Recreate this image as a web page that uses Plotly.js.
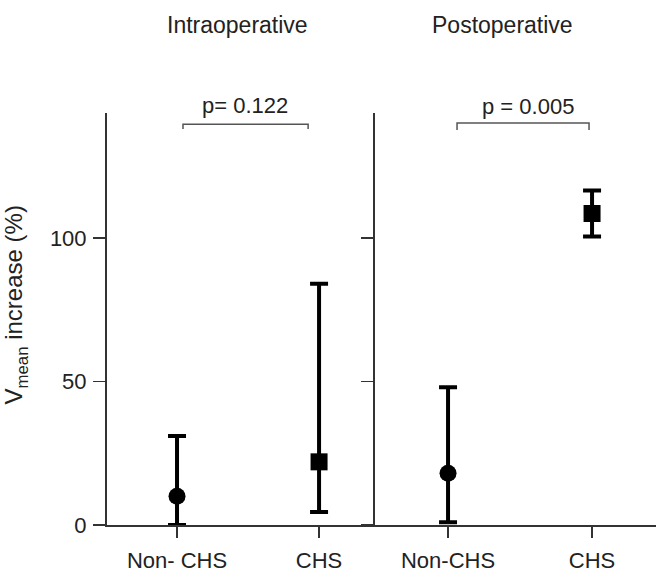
<!DOCTYPE html>
<html><head><meta charset="utf-8">
<script src="https://cdn.plot.ly/plotly-3.0.1.min.js"></script>
<style>body{margin:0;background:#fff;}</style></head>
<body><div id="chart" style="width:656px;height:574px;"></div>
<script>
const groupsIntra = ['Non- CHS', 'CHS'];
const groupsPost = ['Non-CHS', 'CHS'];
const meanIntra = [10, 22];
const upperIntra = [31, 84];
const lowerIntra = [0, 4.5];
const meanPost = [18, 108.5];
const upperPost = [48, 116.5];
const lowerPost = [1, 100.5];
const symbols = ['circle', 'square'];
const panelTitles = ['Intraoperative', 'Postoperative'];
const pValues = ['p= 0.122', 'p = 0.005'];
const yTicks = [0, 50, 100];

const FONT = 'Liberation Sans, Helvetica, Arial, sans-serif';
const TXT = '#222';

function trace(xs, m, up, lo, xa, ya) {
  return {
    type: 'scatter', mode: 'markers', x: xs, y: m, xaxis: xa, yaxis: ya,
    marker: {symbol: symbols, size: 17, color: '#000'},
    error_y: {type: 'data', symmetric: false,
      array: up.map((u, i) => u - m[i]),
      arrayminus: lo.map((l, i) => m[i] - l),
      thickness: 4, width: 9, color: '#000'},
    cliponaxis: false, showlegend: false, hoverinfo: 'x+y'
  };
}

const data = [
  trace(groupsIntra, meanIntra, upperIntra, lowerIntra, 'x', 'y'),
  trace(groupsPost, meanPost, upperPost, lowerPost, 'x2', 'y2')
];

const axisX = {
  type: 'category', showline: true, linecolor: '#333', linewidth: 2,
  ticks: 'outside', ticklen: 11, tickwidth: 1.5, tickcolor: '#333',
  tickfont: {family: FONT, size: 22, color: TXT}, ticklabelstandoff: 4,
  showgrid: false, zeroline: false, fixedrange: true
};
const axisY = {
  range: [0, 143.5], tickvals: yTicks, showline: true, linecolor: '#333', linewidth: 2,
  ticks: 'outside', ticklen: 12, tickwidth: 1.5, tickcolor: '#333',
  tickfont: {family: FONT, size: 22, color: TXT}, ticklabelstandoff: 2,
  showgrid: false, zeroline: false, fixedrange: true
};

function bracket(xa, x0, x1, yTop, yEnd) {
  return {type: 'path', xref: xa, yref: 'y',
    path: `M ${x0} ${yEnd} L ${x0} ${yTop} L ${x1} ${yTop} L ${x1} ${yEnd}`,
    line: {color: '#555', width: 1.5}};
}

function note(text, x, y, size, extra) {
  return Object.assign({text: text, xref: 'paper', yref: 'paper', x: x, y: y,
    xanchor: 'center', yanchor: 'middle', showarrow: false,
    font: {family: FONT, size: size, color: TXT}}, extra || {});
}

const layout = {
  width: 656, height: 574,
  margin: {l: 107, r: 0, t: 113, b: 49},
  paper_bgcolor: '#fff', plot_bgcolor: '#fff',
  xaxis: Object.assign({}, axisX, {domain: [0, 0.4882], range: [-0.493, 1.394], anchor: 'y'}),
  xaxis2: Object.assign({}, axisX, {domain: [0.4882, 1], range: [-0.507, 1.444], anchor: 'y2'}),
  yaxis: Object.assign({}, axisY, {anchor: 'x'}),
  yaxis2: Object.assign({}, axisY, {anchor: 'x2', showticklabels: false}),
  shapes: [
    bracket('x', 0.042, 0.923, 139.6, 137.9),
    bracket('x2', 0.0625, 0.979, 140.0, 137.6)
  ],
  annotations: [
    note(panelTitles[0], 0.2368, 1.2136, 23),
    note(panelTitles[1], 0.7195, 1.2136, 23),
    note(pValues[0], 0.2514, 1.0182, 22),
    note(pValues[1], 0.7668, 1.0146, 22),
    note('V<sub>mean</sub> increase (%)', -0.1658, 0.5352, 24, {textangle: -90})
  ]
};

Plotly.newPlot('chart', data, layout, {displayModeBar: false, staticPlot: true});
</script></body></html>
